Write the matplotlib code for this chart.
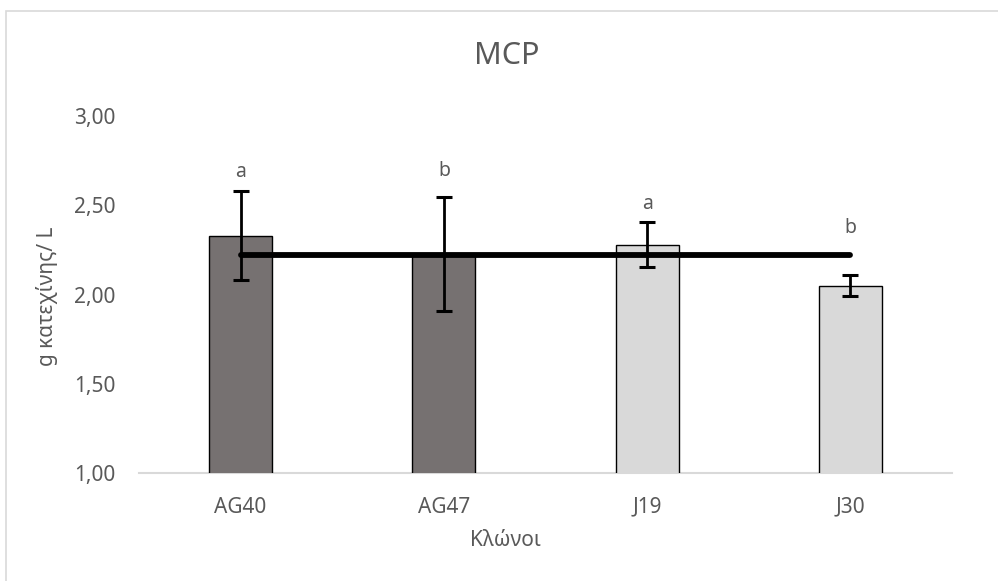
import matplotlib
matplotlib.use('Agg')
import matplotlib.pyplot as plt
from matplotlib.patches import Rectangle
import numpy as np

plt.rcParams['font.family'] = ['Noto Sans', 'DejaVu Sans']

# Clone means (g catechin / L) with error bars and significance letters
clones = ['AG40', 'AG47', 'J19', 'J30']
means = [2.33, 2.225, 2.28, 2.05]
errors = [0.25, 0.32, 0.125, 0.06]
letters = ['a', 'b', 'a', 'b']
letter_y = [2.685, 2.69, 2.505, 2.37]
bar_colors = ['#767171', '#767171', '#D9D9D9', '#D9D9D9']

TEXT = '#595959'
GRID = '#D9D9D9'

fig = plt.figure(figsize=(9.98, 5.81), dpi=100)
ax = fig.add_axes([139 / 998, 1 - 473 / 581, (952 - 139) / 998, (473 - 116) / 581])

# Chart area border
fig.patches.append(Rectangle((6 / 998, -0.05), 1.0, 1 - 11 / 581 + 0.05,
                             transform=fig.transFigure, fill=False,
                             edgecolor=GRID, linewidth=1.2))

x = np.arange(len(clones))
ax.bar(x, means, width=0.31, color=bar_colors, edgecolor='black', linewidth=1.0, zorder=2)
ax.errorbar(x, means, yerr=errors, fmt='none', ecolor='black', elinewidth=2,
            capsize=6, capthick=2.2, zorder=4)

# Overall mean across clones
overall = np.mean(means)
ax.plot([x[0], x[-1]], [overall, overall], color='black', linewidth=4.2,
        solid_capstyle='round', zorder=3)

for xi, lab, ly in zip(x, letters, letter_y):
    ax.text(xi, ly, lab, ha='center', va='center', fontsize=14, color=TEXT)

ax.set_xlim(-0.5, 3.5)
ax.set_ylim(1.0, 3.0)
ax.set_yticks(np.arange(1.0, 3.01, 0.5))
ax.set_yticklabels([f'{v:.2f}'.replace('.', ',') for v in np.arange(1.0, 3.01, 0.5)])
ax.set_xticks(x)
ax.set_xticklabels(clones)
ax.tick_params(axis='y', length=0, pad=17, labelsize=15, labelcolor=TEXT)
ax.tick_params(axis='x', length=0, pad=17, labelsize=15, labelcolor=TEXT)

for side in ['top', 'right', 'left']:
    ax.spines[side].set_visible(False)
ax.spines['bottom'].set_color(GRID)
ax.spines['bottom'].set_linewidth(1.5)
ax.spines['bottom'].set_zorder(1)

fig.text(0.508, 1 - 56 / 581, 'MCP', ha='center', va='center', fontsize=22, color=TEXT)
fig.text(0.506, 1 - 540 / 581, 'Κλώνοι', ha='center', va='center', fontsize=15, color=TEXT)
fig.text(47 / 998, 1 - 296 / 581, 'g κατεχίνης/ L', ha='center', va='center',
         rotation=90, fontsize=15, color=TEXT)

fig.savefig('out.png', dpi=100)
